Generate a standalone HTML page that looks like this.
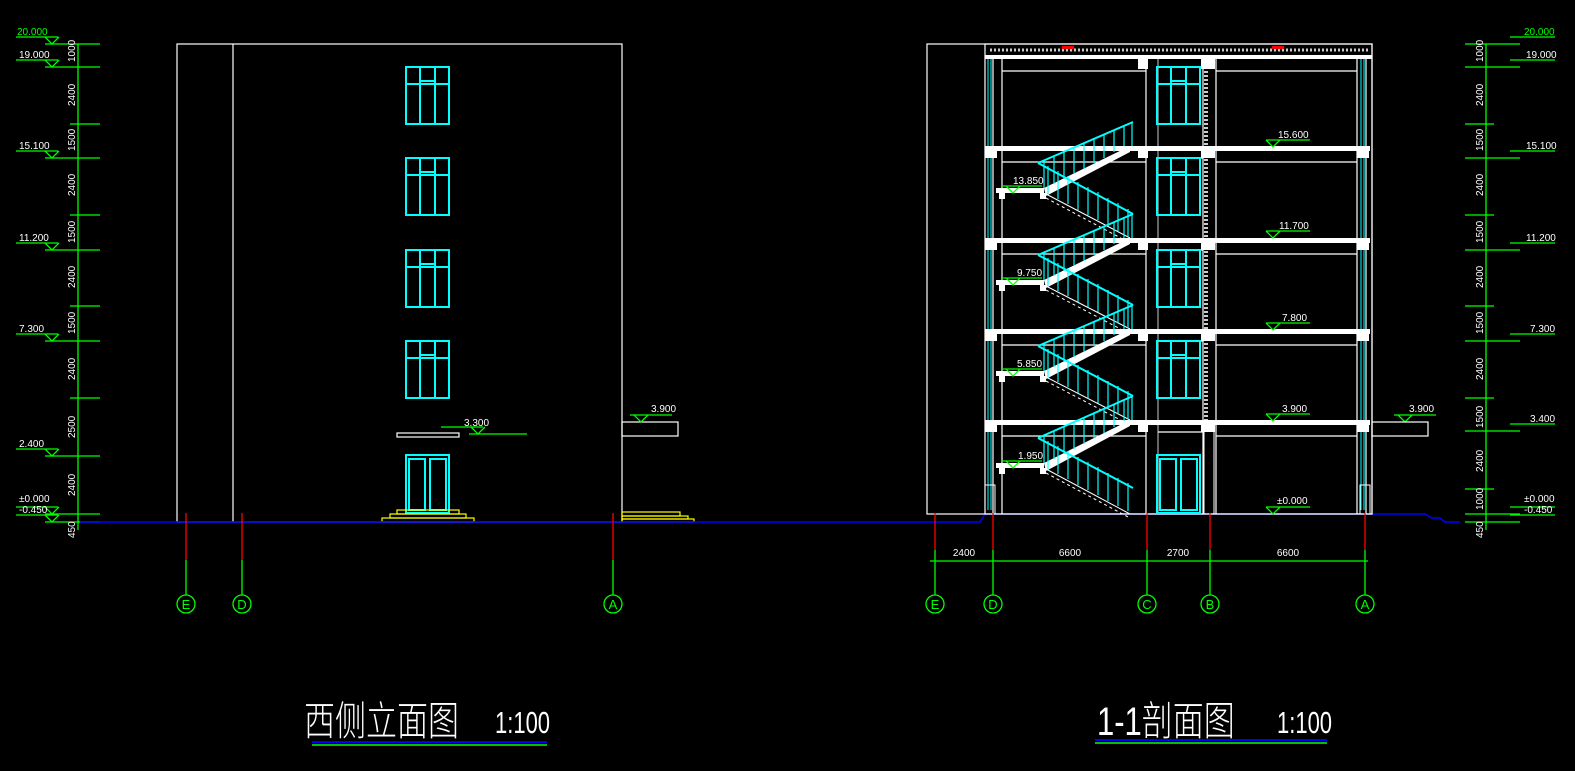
<!DOCTYPE html>
<html><head><meta charset="utf-8"><style>
html,body{margin:0;padding:0;background:#000;width:1575px;height:771px;overflow:hidden}
svg{display:block}
text{font-family:"Liberation Sans Narrow","Liberation Sans",sans-serif;}
.t{fill:#fff;font-size:10px}
.g{stroke:#0f0;stroke-width:1.3;fill:none}
.w{stroke:#fff;stroke-width:1.2;fill:none}
.c{stroke:#0ff;stroke-width:2;fill:none}
.r{stroke:#f00;stroke-width:1.3}
.ws{fill:#fff}
</style></head><body>
<svg width="1575" height="771" viewBox="0 0 1575 771" xmlns="http://www.w3.org/2000/svg">
<defs>
<g id="win">
<rect x="0" y="0" width="43" height="57" class="c"/>
<line x1="0" y1="17" x2="43" y2="17" class="c"/>
<line x1="14" y1="0" x2="14" y2="57" class="c"/>
<line x1="29" y1="0" x2="29" y2="57" class="c"/>
<line x1="14" y1="14" x2="29" y2="14" class="c" stroke-width="1"/>
</g>
<g id="lv"><line x1="0" y1="0" x2="42" y2="0" class="g"/><path d="M30,0 l7,7 l7,-7" class="g"/><line x1="28" y1="7" x2="86" y2="7" class="g"/></g>
</defs>

<!-- LEFT DIM COLUMN -->
<line x1="78" y1="44" x2="78" y2="530" class="g"/>
<g class="g">
<line x1="45" y1="44" x2="100" y2="44"/><line x1="45" y1="67" x2="100" y2="67"/>
<line x1="70" y1="124" x2="100" y2="124"/><line x1="45" y1="158" x2="100" y2="158"/>
<line x1="70" y1="215" x2="100" y2="215"/><line x1="45" y1="250" x2="100" y2="250"/>
<line x1="70" y1="306" x2="100" y2="306"/><line x1="45" y1="341" x2="100" y2="341"/>
<line x1="70" y1="398" x2="100" y2="398"/><line x1="45" y1="456" x2="100" y2="456"/>
<line x1="45" y1="514" x2="100" y2="514"/><line x1="45" y1="522" x2="100" y2="522"/>
</g>
<g class="g">
<line x1="16" y1="37" x2="58" y2="37"/><path d="M45,37 l7,7 l7,-7"/>
<line x1="16" y1="60" x2="58" y2="60"/><path d="M45,60 l7,7 l7,-7"/>
<line x1="16" y1="151" x2="58" y2="151"/><path d="M45,151 l7,7 l7,-7"/>
<line x1="16" y1="243" x2="58" y2="243"/><path d="M45,243 l7,7 l7,-7"/>
<line x1="16" y1="334" x2="58" y2="334"/><path d="M45,334 l7,7 l7,-7"/>
<line x1="16" y1="449" x2="58" y2="449"/><path d="M45,449 l7,7 l7,-7"/>
<line x1="16" y1="507" x2="58" y2="507"/><path d="M45,507 l7,7 l7,-7"/>
<line x1="16" y1="515" x2="58" y2="515"/><path d="M45,515 l7,7 l7,-7"/>
</g>
<text x="17" y="35" style="fill:#0f0;font-size:10px">20.000</text>
<text x="19" y="58" class="t">19.000</text>
<text x="19" y="149" class="t">15.100</text>
<text x="19" y="241" class="t">11.200</text>
<text x="19" y="332" class="t">7.300</text>
<text x="19" y="447" class="t">2.400</text>
<text x="19" y="502" class="t">±0.000</text>
<text x="19" y="513" class="t">-0.450</text>
<g class="t">
<text transform="translate(75,62) rotate(-90)">1000</text>
<text transform="translate(75,106) rotate(-90)">2400</text>
<text transform="translate(75,151) rotate(-90)">1500</text>
<text transform="translate(75,196) rotate(-90)">2400</text>
<text transform="translate(75,243) rotate(-90)">1500</text>
<text transform="translate(75,288) rotate(-90)">2400</text>
<text transform="translate(75,334) rotate(-90)">1500</text>
<text transform="translate(75,380) rotate(-90)">2400</text>
<text transform="translate(75,438) rotate(-90)">2500</text>
<text transform="translate(75,496) rotate(-90)">2400</text>
<text transform="translate(75,538) rotate(-90)">450</text>
</g>

<!-- WEST ELEVATION -->
<rect x="177" y="44" width="445" height="478" class="w"/>
<line x1="233" y1="44" x2="233" y2="522" class="w"/>
<use href="#win" x="406" y="67"/>
<use href="#win" x="406" y="158"/>
<use href="#win" x="406" y="250"/>
<use href="#win" x="406" y="341"/>
<rect x="397" y="433" width="62" height="4" class="w"/>
<use href="#lv" x="441" y="427"/>
<text x="464" y="426" class="t">3.300</text>
<rect x="406" y="455" width="43" height="58" class="c" stroke-width="1.5"/>
<rect x="409" y="459" width="16" height="51" class="c" stroke-width="1"/>
<rect x="430" y="459" width="16" height="51" class="c" stroke-width="1"/>
<line x1="425" y1="472" x2="425" y2="494" class="c"/><line x1="430" y1="472" x2="430" y2="494" class="c"/>
<g stroke="#ff0" stroke-width="1.2" fill="none">
<rect x="397" y="510" width="62" height="4"/><rect x="390" y="514" width="76" height="4"/><rect x="382" y="518" width="92" height="4"/>
<rect x="622" y="512" width="58" height="4"/><rect x="622" y="516" width="66" height="3"/><rect x="622" y="519" width="72" height="3"/>
</g>
<rect x="622" y="422" width="56" height="14" class="w"/>
<g class="g"><line x1="630" y1="415" x2="672" y2="415"/><path d="M634,415 l7,7 l7,-7"/></g>
<text x="651" y="412" class="t">3.900</text>

<!-- ground -->
<polyline points="80,522 980,522 985,514 1425,514 1432,518 1440,518 1445,522 1460,522" stroke="#00f" stroke-width="1.5" fill="none"/>

<!-- axis left -->
<g class="r"><line x1="186" y1="513" x2="186" y2="560"/><line x1="242" y1="513" x2="242" y2="560"/><line x1="613" y1="513" x2="613" y2="560"/></g>
<g class="g"><line x1="186" y1="560" x2="186" y2="595"/><line x1="242" y1="560" x2="242" y2="595"/><line x1="613" y1="560" x2="613" y2="595"/>
<circle cx="186" cy="604" r="9"/><circle cx="242" cy="604" r="9"/><circle cx="613" cy="604" r="9"/></g>
<g style="fill:#0f0;font-size:13px" text-anchor="middle"><text x="186" y="609">E</text><text x="242" y="609">D</text><text x="613" y="609">A</text></g>

<!-- SECTION -->
<rect x="927" y="44" width="445" height="470" class="w"/>
<rect x="985" y="44" width="387" height="470" class="w"/>
<rect x="985" y="55" width="387" height="4" class="ws"/>
<line x1="990" y1="50" x2="1368" y2="50" stroke="#ccc" stroke-dasharray="2,2" stroke-width="3"/>
<rect x="1062" y="46" width="12" height="3" fill="#f00"/><rect x="1272" y="46" width="12" height="3" fill="#f00"/>
<g class="w">
<line x1="993" y1="59" x2="993" y2="514"/><line x1="1002" y1="59" x2="1002" y2="514"/>
<line x1="1146" y1="59" x2="1146" y2="514"/><line x1="1158" y1="59" x2="1158" y2="514" stroke-width="0.8"/>
<line x1="1203" y1="59" x2="1203" y2="514"/><line x1="1216" y1="59" x2="1216" y2="514"/>
<line x1="1357" y1="59" x2="1357" y2="514"/><line x1="1366" y1="59" x2="1366" y2="514"/>
</g>
<g stroke="#0ff" stroke-width="1"><line x1="988" y1="59" x2="988" y2="510"/><line x1="991" y1="59" x2="991" y2="510"/>
<line x1="1361" y1="59" x2="1361" y2="510"/><line x1="1364" y1="59" x2="1364" y2="510"/></g>
<line x1="1206" y1="59" x2="1206" y2="420" stroke="#ccc" stroke-width="4" stroke-dasharray="2,2"/>
<rect x="1204" y="430" width="10" height="84" fill="none" stroke="#fff"/>
<rect x="985" y="485" width="10" height="29" fill="none" stroke="#fff"/>
<rect x="1360" y="485" width="10" height="29" fill="none" stroke="#fff"/>
<g class="ws">
<rect x="985" y="146" width="385" height="5"/><rect x="985" y="238" width="385" height="5"/>
<rect x="985" y="329" width="385" height="5"/><rect x="985" y="420" width="385" height="5"/>
<rect x="1138" y="146" width="10" height="12"/><rect x="1138" y="238" width="10" height="12"/><rect x="1138" y="329" width="10" height="12"/><rect x="1138" y="420" width="10" height="12"/><rect x="1138" y="59" width="10" height="10"/>
<rect x="1201" y="146" width="14" height="12"/><rect x="1201" y="238" width="14" height="12"/><rect x="1201" y="329" width="14" height="12"/><rect x="1201" y="420" width="14" height="12"/><rect x="1201" y="59" width="14" height="10"/>
<rect x="1357" y="146" width="12" height="12"/><rect x="1357" y="238" width="12" height="12"/><rect x="1357" y="329" width="12" height="12"/><rect x="1357" y="420" width="12" height="12"/>
<rect x="985" y="146" width="12" height="12"/><rect x="985" y="238" width="12" height="12"/><rect x="985" y="329" width="12" height="12"/><rect x="985" y="420" width="12" height="12"/>
</g>
<g class="w" stroke-width="1">
<line x1="1002" y1="71" x2="1146" y2="71"/><line x1="1216" y1="71" x2="1357" y2="71"/>
<line x1="1002" y1="162" x2="1146" y2="162"/><line x1="1216" y1="162" x2="1357" y2="162"/>
<line x1="1002" y1="254" x2="1146" y2="254"/><line x1="1216" y1="254" x2="1357" y2="254"/>
<line x1="1002" y1="345" x2="1146" y2="345"/><line x1="1216" y1="345" x2="1357" y2="345"/>
<line x1="1002" y1="436" x2="1146" y2="436"/><line x1="1216" y1="436" x2="1357" y2="436"/>
<line x1="1158" y1="158" x2="1203" y2="158"/><line x1="1158" y1="250" x2="1203" y2="250"/><line x1="1158" y1="341" x2="1203" y2="341"/><line x1="1158" y1="432" x2="1203" y2="432"/>
</g>
<use href="#win" x="1157" y="67"/>
<use href="#win" x="1157" y="158"/>
<use href="#win" x="1157" y="250"/>
<use href="#win" x="1157" y="341"/>
<rect x="1157" y="455" width="43" height="58" class="c" stroke-width="1.5"/>
<rect x="1160" y="459" width="16" height="51" class="c" stroke-width="1"/>
<rect x="1181" y="459" width="16" height="51" class="c" stroke-width="1"/>
<g class="ws">
<rect x="996" y="188" width="48" height="5"/><rect x="996" y="280" width="48" height="5"/><rect x="996" y="371" width="48" height="5"/><rect x="996" y="463" width="48" height="5"/>
<rect x="999" y="193" width="6" height="6"/><rect x="1040" y="193" width="6" height="6"/>
<rect x="999" y="285" width="6" height="6"/><rect x="1040" y="285" width="6" height="6"/>
<rect x="999" y="376" width="6" height="6"/><rect x="1040" y="376" width="6" height="6"/>
<rect x="999" y="468" width="6" height="6"/><rect x="1040" y="468" width="6" height="6"/>
</g>
<g fill="#fff">
<polygon points="1044,188 1130,146 1130,152 1046,196"/>
<polygon points="1044,280 1130,238 1130,244 1046,288"/>
<polygon points="1044,371 1130,329 1130,335 1046,379"/>
<polygon points="1044,463 1130,420 1130,426 1046,471"/>
</g>
<g stroke="#fff" stroke-width="1" fill="none">
<polyline points="1046,194 1130,238"/><polyline points="1046,286 1130,329"/><polyline points="1046,377 1130,420"/><polyline points="1046,469 1130,514"/>
<polyline points="1046,198 1130,243" stroke-dasharray="3,3"/><polyline points="1046,290 1130,334" stroke-dasharray="3,3"/><polyline points="1046,381 1130,425" stroke-dasharray="3,3"/><polyline points="1046,473 1130,518" stroke-dasharray="3,3"/>
</g>
<g class="c" stroke-width="1.5">
<polyline points="1038,163 1133,122"/><polyline points="1038,163 1133,214"/>
<polyline points="1038,255 1133,214"/><polyline points="1038,255 1133,305"/>
<polyline points="1038,346 1133,305"/><polyline points="1038,346 1133,396"/>
<polyline points="1038,438 1133,396"/><polyline points="1038,438 1133,488"/>
</g>
<g stroke="#0ff" stroke-width="1.2">
<path d="M1044,160v28M1054,156v28M1064,151v28M1074,147v27M1084,143v26M1094,138v25M1104,134v24M1114,130v22M1124,126v20M1132,122v24
M1044,252v28M1054,248v28M1064,243v28M1074,239v27M1084,235v26M1094,230v25M1104,226v24M1114,222v22M1124,218v20M1132,214v24
M1044,343v28M1054,339v28M1064,334v28M1074,330v27M1084,326v26M1094,321v25M1104,317v24M1114,313v22M1124,309v20M1132,305v24
M1044,435v28M1054,431v28M1064,426v28M1074,422v27M1084,418v26M1094,413v25M1104,409v24M1114,405v22M1124,401v20M1132,396v24
M1048,166v28M1058,171v28M1068,176v28M1078,182v28M1088,187v28M1098,192v28M1108,198v28M1118,203v28M1128,209v28
M1048,258v28M1058,263v28M1068,268v28M1078,274v28M1088,279v28M1098,284v28M1108,290v28M1118,295v28M1128,300v28
M1048,349v28M1058,354v28M1068,359v28M1078,365v28M1088,370v28M1098,375v28M1108,381v28M1118,386v28M1128,391v28
M1048,441v28M1058,446v28M1068,451v28M1078,457v28M1088,462v28M1098,467v28M1108,473v28M1118,478v28M1128,483v28"/>
</g>
<g class="g">
<line x1="1002" y1="186" x2="1042" y2="186"/><path d="M1006,186 l7,7 l7,-7"/>
<line x1="1002" y1="278" x2="1042" y2="278"/><path d="M1006,278 l7,7 l7,-7"/>
<line x1="1002" y1="369" x2="1042" y2="369"/><path d="M1006,369 l7,7 l7,-7"/>
<line x1="1002" y1="461" x2="1042" y2="461"/><path d="M1006,461 l7,7 l7,-7"/>
<line x1="1266" y1="140" x2="1310" y2="140"/><path d="M1266,140 l7,7 l7,-7"/>
<line x1="1266" y1="231" x2="1310" y2="231"/><path d="M1266,231 l7,7 l7,-7"/>
<line x1="1266" y1="323" x2="1310" y2="323"/><path d="M1266,323 l7,7 l7,-7"/>
<line x1="1266" y1="414" x2="1310" y2="414"/><path d="M1266,414 l7,7 l7,-7"/>
<line x1="1266" y1="507" x2="1310" y2="507"/><path d="M1266,507 l7,7 l7,-7"/>
<line x1="1394" y1="415" x2="1436" y2="415"/><path d="M1398,415 l7,7 l7,-7"/>
</g>
<text x="1013" y="184" class="t">13.850</text>
<text x="1017" y="276" class="t">9.750</text>
<text x="1017" y="367" class="t">5.850</text>
<text x="1018" y="459" class="t">1.950</text>
<text x="1278" y="138" class="t">15.600</text>
<text x="1279" y="229" class="t">11.700</text>
<text x="1282" y="321" class="t">7.800</text>
<text x="1282" y="412" class="t">3.900</text>
<text x="1277" y="504" class="t">±0.000</text>
<text x="1409" y="412" class="t">3.900</text>
<rect x="1372" y="422" width="56" height="14" class="w"/>

<g class="r"><line x1="935" y1="513" x2="935" y2="550"/><line x1="993" y1="513" x2="993" y2="550"/><line x1="1147" y1="513" x2="1147" y2="550"/><line x1="1210" y1="513" x2="1210" y2="550"/><line x1="1365" y1="513" x2="1365" y2="550"/></g>
<g class="g">
<line x1="930" y1="561" x2="1368" y2="561"/>
<line x1="935" y1="550" x2="935" y2="595"/><line x1="993" y1="550" x2="993" y2="595"/><line x1="1147" y1="550" x2="1147" y2="595"/><line x1="1210" y1="550" x2="1210" y2="595"/><line x1="1365" y1="550" x2="1365" y2="595"/>
<circle cx="935" cy="604" r="9"/><circle cx="993" cy="604" r="9"/><circle cx="1147" cy="604" r="9"/><circle cx="1210" cy="604" r="9"/><circle cx="1365" cy="604" r="9"/>
</g>
<g style="fill:#0f0;font-size:13px" text-anchor="middle"><text x="935" y="609">E</text><text x="993" y="609">D</text><text x="1147" y="609">C</text><text x="1210" y="609">B</text><text x="1365" y="609">A</text></g>
<g class="t" text-anchor="middle"><text x="964" y="556">2400</text><text x="1070" y="556">6600</text><text x="1178" y="556">2700</text><text x="1288" y="556">6600</text></g>

<!-- RIGHT DIM COLUMN -->
<line x1="1486" y1="44" x2="1486" y2="530" class="g"/>
<g class="g">
<line x1="1465" y1="44" x2="1520" y2="44"/><line x1="1465" y1="67" x2="1520" y2="67"/>
<line x1="1465" y1="124" x2="1494" y2="124"/><line x1="1465" y1="158" x2="1520" y2="158"/>
<line x1="1465" y1="215" x2="1494" y2="215"/><line x1="1465" y1="250" x2="1520" y2="250"/>
<line x1="1465" y1="306" x2="1494" y2="306"/><line x1="1465" y1="341" x2="1520" y2="341"/>
<line x1="1465" y1="398" x2="1494" y2="398"/><line x1="1465" y1="431" x2="1520" y2="431"/>
<line x1="1465" y1="489" x2="1494" y2="489"/>
<line x1="1465" y1="514" x2="1520" y2="514"/><line x1="1465" y1="522" x2="1520" y2="522"/>
<line x1="1510" y1="37" x2="1555" y2="37"/>
<line x1="1510" y1="60" x2="1555" y2="60"/><line x1="1510" y1="151" x2="1555" y2="151"/><line x1="1510" y1="243" x2="1555" y2="243"/><line x1="1510" y1="334" x2="1555" y2="334"/><line x1="1510" y1="424" x2="1555" y2="424"/><line x1="1510" y1="507" x2="1555" y2="507"/><line x1="1510" y1="515" x2="1555" y2="515"/>
</g>
<text x="1524" y="35" style="fill:#0f0;font-size:10px">20.000</text>
<text x="1526" y="58" class="t">19.000</text>
<text x="1526" y="149" class="t">15.100</text>
<text x="1526" y="241" class="t">11.200</text>
<text x="1530" y="332" class="t">7.300</text>
<text x="1530" y="422" class="t">3.400</text>
<text x="1524" y="502" class="t">±0.000</text>
<text x="1524" y="513" class="t">-0.450</text>
<g class="t">
<text transform="translate(1483,62) rotate(-90)">1000</text>
<text transform="translate(1483,106) rotate(-90)">2400</text>
<text transform="translate(1483,151) rotate(-90)">1500</text>
<text transform="translate(1483,196) rotate(-90)">2400</text>
<text transform="translate(1483,243) rotate(-90)">1500</text>
<text transform="translate(1483,288) rotate(-90)">2400</text>
<text transform="translate(1483,334) rotate(-90)">1500</text>
<text transform="translate(1483,380) rotate(-90)">2400</text>
<text transform="translate(1483,428) rotate(-90)">1500</text>
<text transform="translate(1483,472) rotate(-90)">2400</text>
<text transform="translate(1483,510) rotate(-90)">1000</text>
<text transform="translate(1483,538) rotate(-90)">450</text>
</g>

<!-- TITLES -->
<text transform="translate(304,735) scale(1,1.3)" style="fill:#fff;font-family:'Noto Sans CJK SC',sans-serif;font-weight:300;font-size:31px">西侧立面图</text>
<text transform="translate(495,733) scale(1,1.4)" style="fill:#fff;font-family:'Liberation Sans',sans-serif;font-size:22px">1:100</text>
<line x1="312" y1="742" x2="547" y2="742" stroke="#00f" stroke-width="2"/>
<line x1="312" y1="745" x2="547" y2="745" stroke="#0f0" stroke-width="1.5"/>
<text transform="translate(1097,735) scale(1,1.3)" style="fill:#fff;font-family:'Liberation Sans','Noto Sans CJK SC',sans-serif;font-weight:300;font-size:31px">1-1剖面图</text>
<text transform="translate(1277,733) scale(1,1.4)" style="fill:#fff;font-family:'Liberation Sans',sans-serif;font-size:22px">1:100</text>
<line x1="1095" y1="740" x2="1327" y2="740" stroke="#00f" stroke-width="2"/>
<line x1="1095" y1="743" x2="1327" y2="743" stroke="#0f0" stroke-width="1.5"/>
</svg>
</body></html>
